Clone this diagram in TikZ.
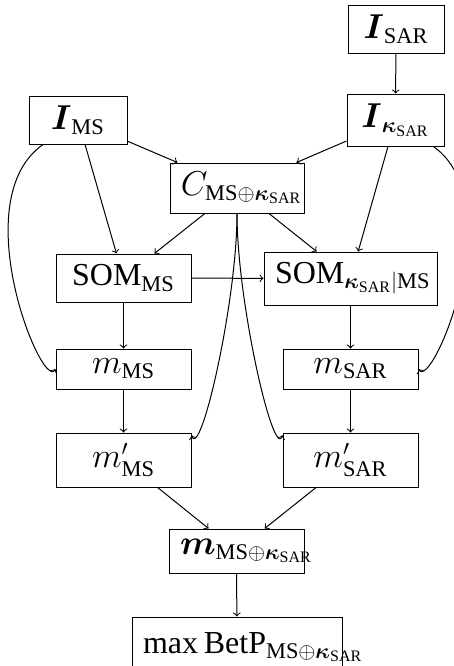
\documentclass[tikz,border=0pt]{standalone}
\usepackage{amsmath}
\usepackage{amssymb}
\usepackage{fontspec}
\setmainfont{Liberation Serif}

\begin{document}
\begin{tikzpicture}[x=0.5pt,y=-0.5pt,line width=0.5pt,
		blk/.style={draw,align=center,inner xsep=5.5pt,inner ysep=1pt,
			font=\fontsize{16}{19}\selectfont},
		arr/.style={->}]
		\useasboundingbox (0,0) rectangle (454,666);
		% inputs
		\node[blk,text width=37pt,minimum height=24pt] (isar) at (396,29) {$\boldsymbol{I}_{\mathrm{SAR}}$};
		\node[blk,text width=37.5pt,minimum height=26pt] (iksar) at (395.5,120) {$\boldsymbol{I}_{\boldsymbol{\kappa}_{\mathrm{SAR}}}$};
		\node[blk,text width=38pt,minimum height=24pt] (ims) at (78,120) {$\boldsymbol{I}_{\mathrm{MS}}$};
		\node[blk,text width=56pt,minimum height=25pt] (cfus) at (237,188) {$C_{\mathrm{MS}\oplus\boldsymbol{\kappa}_{\mathrm{SAR}}}$};
		% maps
		\node[blk,text width=56.5pt,minimum height=24pt] (somms) at (123.5,278) {$\mathrm{SOM}_{\mathrm{MS}}$};
		\node[blk,text width=75.5pt,minimum height=26.5pt] (somk) at (350.5,278.5) {$\mathrm{SOM}_{\boldsymbol{\kappa}_{\mathrm{SAR}}|\mathrm{MS}}$};
		\node[blk,text width=56.5pt,minimum height=20pt] (mms) at (123.5,369) {$m_{\mathrm{MS}}$};
		\node[blk,text width=56.5pt,minimum height=20pt] (msar) at (350.5,369) {$m_{\mathrm{SAR}}$};
		\node[blk,text width=56.5pt,minimum height=27pt] (mpms) at (123.5,460) {$m'_{\mathrm{MS}}$};
		\node[blk,text width=56.5pt,minimum height=27pt] (mpsar) at (350.5,460) {$m'_{\mathrm{SAR}}$};
		% fusion
		\node[blk,text width=56.5pt,minimum height=22pt] (mfus) at (236.5,551) {$\boldsymbol{m}_{\mathrm{MS}\oplus\boldsymbol{\kappa}_{\mathrm{SAR}}}$};
		\node[blk,text width=94pt,minimum height=30pt] (betp) at (237,647) {$\max\mathrm{BetP}_{\mathrm{MS}\oplus\boldsymbol{\kappa}_{\mathrm{SAR}}}$};
		\draw[arr] (isar) -- (iksar);
		\draw[arr] (ims) -- (cfus);
		\draw[arr] (iksar) -- (cfus);
		\draw[arr] (ims) -- (somms);
		\draw[arr] (cfus) -- (somms);
		\draw[arr] (cfus) -- (somk);
		\draw[arr] (iksar) -- (somk);
		\draw[arr] (somms) -- (somk);
		\draw[arr] (somms) -- (mms);
		\draw[arr] (somk) -- (msar);
		\draw[arr] (mms) -- (mpms);
		\draw[arr] (msar) -- (mpsar);
		\draw[arr] (mpms) -- (mfus);
		\draw[arr] (mpsar) -- (mfus);
		\draw[arr] (mfus) -- (betp);
		% bypass curves
		\draw[arr] (ims) to[out=-145,in=-120,out looseness=1.1,in looseness=0.3] (mms.west);
		\draw[arr] (iksar) to[out=-35,in=-60,out looseness=1.1,in looseness=0.3] (msar.east);
		\draw[arr] (cfus.south) to[out=-90,in=-70,in looseness=0.3] (mpms.20);
		\draw[arr] (cfus.south) to[out=-90,in=-110,in looseness=0.3] (mpsar.160);
	\end{tikzpicture}
\end{document}
